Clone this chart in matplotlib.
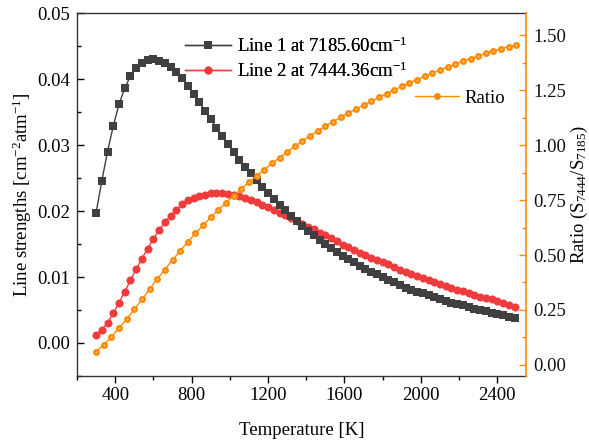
import numpy as np
import matplotlib
matplotlib.use("Agg")
import matplotlib.pyplot as plt
from matplotlib.ticker import MultipleLocator, FormatStrFormatter
from matplotlib.lines import Line2D

plt.rcParams['font.family'] = ['Liberation Serif', 'DejaVu Serif']
plt.rcParams['mathtext.fontset'] = 'custom'
plt.rcParams['mathtext.rm'] = 'Liberation Serif'
plt.rcParams['mathtext.it'] = 'Liberation Serif:italic'

# Temperature grids [K]
temp_lines = np.arange(300, 2491, 30)
temp_ratio = np.arange(300, 2501, 40)

# Line strength of line 1 (7185.60 cm-1) [cm-2 atm-1]
line1 = [0.0197, 0.0246, 0.0290, 0.0329, 0.0362, 0.0386, 0.0405, 0.0417, 0.0425, 0.0429,
         0.0430, 0.0428, 0.0424, 0.0418, 0.0410, 0.0401, 0.0390, 0.0378, 0.0365, 0.0352,
         0.0339, 0.0326, 0.0313, 0.0301, 0.0289, 0.0278, 0.0267, 0.0257, 0.0247, 0.0237,
         0.0227, 0.0218, 0.0209, 0.0201, 0.0193, 0.0185, 0.0177, 0.0170, 0.0163, 0.0156,
         0.0150, 0.0144, 0.0138, 0.0132, 0.0127, 0.0122, 0.0117, 0.0112, 0.0108, 0.0104,
         0.0100, 0.0096, 0.0092, 0.0088, 0.0084, 0.0081, 0.0078, 0.0075, 0.0072, 0.0069,
         0.0066, 0.0064, 0.0061, 0.0059, 0.0057, 0.0054, 0.0052, 0.0050, 0.0048, 0.0046,
         0.0044, 0.0042, 0.0040, 0.0038]

# Line strength of line 2 (7444.36 cm-1) [cm-2 atm-1]
line2 = [0.0012, 0.0020, 0.0031, 0.0045, 0.0061, 0.0078, 0.0095, 0.0112, 0.0128, 0.0143,
         0.0158, 0.0171, 0.0183, 0.0193, 0.0202, 0.0210, 0.0216, 0.0220, 0.0223, 0.0225,
         0.0227, 0.0227, 0.0227, 0.0226, 0.0224, 0.0222, 0.0219, 0.0216, 0.0213, 0.0209,
         0.0206, 0.0202, 0.0197, 0.0194, 0.0190, 0.0185, 0.0180, 0.0176, 0.0172, 0.0167,
         0.0163, 0.0159, 0.0154, 0.0149, 0.0145, 0.0141, 0.0137, 0.0133, 0.0129, 0.0126,
         0.0123, 0.0119, 0.0115, 0.0111, 0.0107, 0.0104, 0.0101, 0.0098, 0.0095, 0.0092,
         0.0089, 0.0087, 0.0083, 0.0081, 0.0079, 0.0075, 0.0073, 0.0070, 0.0068, 0.0066,
         0.0063, 0.0060, 0.0058, 0.0055]

# Ratio S7444 / S7185
ratio = [0.061, 0.092, 0.128, 0.167, 0.209, 0.253, 0.298, 0.344, 0.390, 0.434,
         0.477, 0.519, 0.559, 0.598, 0.635, 0.671, 0.705, 0.738, 0.770, 0.801,
         0.831, 0.860, 0.888, 0.916, 0.943, 0.969, 0.994, 1.018, 1.042, 1.064,
         1.086, 1.106, 1.126, 1.145, 1.163, 1.181, 1.199, 1.217, 1.234, 1.250,
         1.266, 1.282, 1.297, 1.312, 1.327, 1.341, 1.355, 1.368, 1.381, 1.393,
         1.405, 1.417, 1.428, 1.438, 1.447, 1.455]

c_line1 = '#404040'
c_line2 = '#ef3b3b'
c_ratio = '#ff8a00'
c_ratio_hi = '#ffc27a'

ms1, ms2, ms3 = 5.3, 5.8, 5.0

fig = plt.figure(figsize=(5.89, 4.41), dpi=100)
ax = fig.add_axes([0.1307, 0.1474, 0.7623, 0.8231])
ax2 = ax.twinx()

fs = 13.5

ax.plot(temp_lines, line1, color=c_line1, lw=1.0, marker='s', ms=ms1,
        mfc=c_line1, mec=c_line1, mew=0, zorder=3)
ax.plot(temp_lines, line2, color=c_line2, lw=1.0, marker='o', ms=ms2,
        mfc=c_line2, mec=c_line2, mew=0, zorder=2)

ax2.plot(temp_ratio, ratio, color=c_ratio, lw=1.0, marker='o', ms=ms3,
         mfc=c_ratio, mec=c_ratio, mew=0, zorder=3)
ax2.plot(temp_ratio, ratio, ls='none', marker='o', ms=1.6,
         mfc=c_ratio_hi, mec=c_ratio_hi, mew=0, zorder=4)

ax.set_xlim(200, 2550)
ax.set_ylim(-0.005, 0.05)
ax2.set_ylim(-0.05, 1.6)

ax.xaxis.set_major_locator(MultipleLocator(400))
ax.xaxis.set_minor_locator(MultipleLocator(200))
ax.yaxis.set_major_locator(MultipleLocator(0.01))
ax.yaxis.set_minor_locator(MultipleLocator(0.005))
ax.yaxis.set_major_formatter(FormatStrFormatter('%.2f'))
ax2.yaxis.set_minor_locator(MultipleLocator(0.125))
ax2.yaxis.set_major_formatter(FormatStrFormatter('%.2f'))
ax2.set_yticks([0.0, 0.25, 0.5, 0.75, 1.0, 1.25, 1.5])

ax.tick_params(axis='x', which='major', direction='out', length=5, width=1,
               labelsize=fs, pad=3, top=False)
ax.tick_params(axis='x', which='minor', direction='out', length=3, width=1, top=False)
ax.tick_params(axis='y', which='major', direction='in', length=5, width=1,
               labelsize=fs, pad=5)
ax.tick_params(axis='y', which='minor', direction='in', length=3, width=1)
ax2.tick_params(axis='y', which='major', direction='in', length=5, width=1,
                color=c_ratio, labelsize=fs, labelcolor='#111111', pad=5)
ax2.tick_params(axis='y', which='minor', direction='in', length=3, width=1,
                color=c_ratio)

for side in ['left', 'bottom', 'top']:
    ax.spines[side].set_color('#333333')
    ax.spines[side].set_linewidth(1.0)
ax2.spines['right'].set_color(c_ratio)
ax2.spines['right'].set_linewidth(1.2)
ax2.spines['left'].set_visible(False)
ax2.spines['top'].set_visible(False)
ax2.spines['bottom'].set_visible(False)
ax.spines['right'].set_visible(False)

ax.set_xlabel('Temperature [K]', fontsize=fs, labelpad=13)
ax.set_ylabel('Line strengths [cm$^{-2}$atm$^{-1}$]', fontsize=fs, labelpad=2)
ax2.set_ylabel('Ratio (S$_{7444}$/S$_{7185}$)', fontsize=fs, rotation=90, labelpad=2)

handles = [
    Line2D([], [], color=c_line1, lw=1.0, marker='s', ms=ms1, mew=0),
    Line2D([], [], color=c_line2, lw=1.0, marker='o', ms=ms2, mew=0),
]
leg1 = ax.legend(handles, ['Line 1 at 7185.60cm$^{-1}$', 'Line 2 at 7444.36cm$^{-1}$'],
                 loc='upper left', bbox_to_anchor=(0.291, 0.947), bbox_transform=fig.transFigure,
                 frameon=False, fontsize=fs, numpoints=1, handlelength=2.5,
                 handletextpad=0.3, labelspacing=0.30, borderpad=0.2)
ax.add_artist(leg1)

h_ratio = [Line2D([], [], color=c_ratio, lw=1.0, marker='o', ms=ms3, mew=0)]
ax2.legend(h_ratio, ['Ratio'], loc='upper left', bbox_to_anchor=(0.683, 0.826),
           bbox_transform=fig.transFigure, frameon=False, fontsize=fs, numpoints=1,
           handlelength=2.3, handletextpad=0.3, borderpad=0.2)

fig.savefig('out.png', dpi=100)
